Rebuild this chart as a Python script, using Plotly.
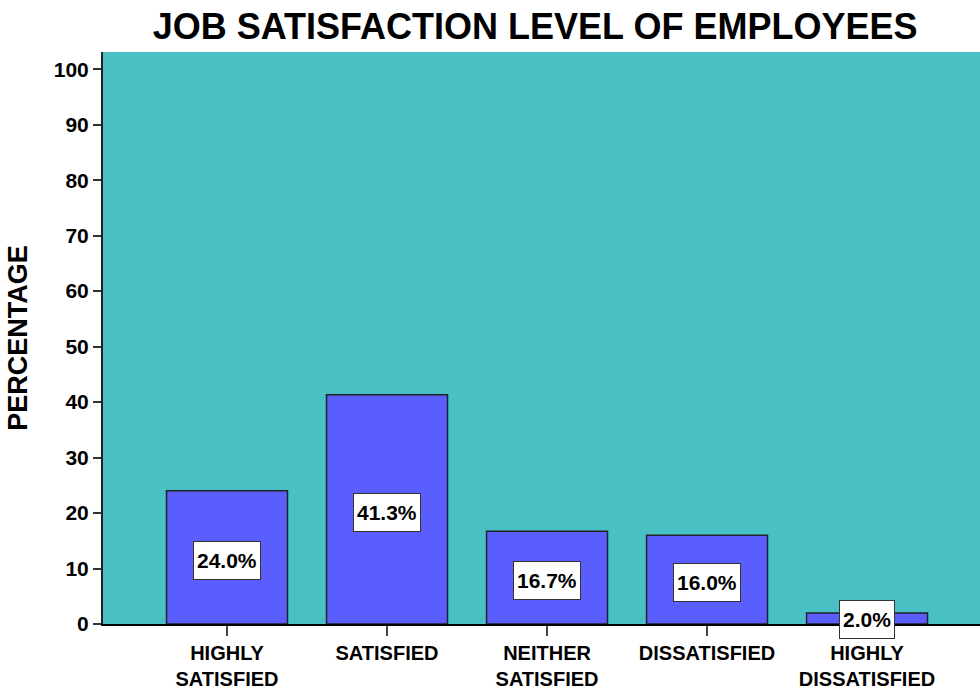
import plotly.graph_objects as go

categories = ["HIGHLY<br>SATISFIED", "SATISFIED", "NEITHER<br>SATISFIED", "DISSATISFIED", "HIGHLY<br>DISSATISFIED"]
percentages = [24.0, 41.3, 16.7, 16.0, 2.0]
y_ticks = [0, 10, 20, 30, 40, 50, 60, 70, 80, 90, 100]

NARROW = "Liberation Sans Narrow, Arial Narrow, Liberation Sans, Arial, sans-serif"
BOLD_FONT = "Liberation Sans, Arial, sans-serif"

xpos = list(range(len(categories)))

fig = go.Figure()
fig.add_trace(go.Bar(
    x=xpos,
    y=percentages,
    width=0.756,
    marker=dict(color="#5B5EFF", line=dict(color="#222222", width=1.5)),
    hoverinfo="skip",
))

# value labels in boxed white tags near the middle of each bar
for xi, v in zip(xpos, percentages):
    fig.add_annotation(
        x=xi, y=v / 2 - 0.5 if v > 5 else 0.9,
        text=f"<b>{v:.1f}%</b>",
        showarrow=False,
        font=dict(family=NARROW, size=21, color="black"),
        bgcolor="white",
        bordercolor="#333333",
        borderwidth=1,
        borderpad=3,
        height=31,
    )

fig.update_layout(
    width=980, height=690,
    margin=dict(l=103, r=0, t=52, b=66),
    paper_bgcolor="white",
    plot_bgcolor="#48C0C4",
    showlegend=False,
    title=dict(
        text="<b>JOB SATISFACTION LEVEL OF EMPLOYEES</b>",
        x=0.546, xanchor="center", y=0.962, yanchor="middle",
        font=dict(family=BOLD_FONT, size=36, color="black"),
    ),
    xaxis=dict(
        tickmode="array", tickvals=xpos,
        ticktext=[f"<b>{c}</b>" for c in categories],
        range=[-0.775, 4.706],
        showgrid=False, zeroline=False,
        showline=True, linecolor="black", linewidth=1.5,
        ticks="outside", ticklen=10, tickcolor="#444444", tickwidth=1.5,
        tickfont=dict(family=NARROW, size=20, color="black"),
    ),
    yaxis=dict(
        range=[0, 103.1],
        tickmode="array", tickvals=y_ticks,
        ticktext=[f"<b>{t}</b>" for t in y_ticks],
        showgrid=False, zeroline=False,
        showline=True, linecolor="#222222", linewidth=2,
        ticks="outside", ticklen=8, tickcolor="#333333", tickwidth=2,
        tickfont=dict(family=NARROW, size=21, color="black"),
        title=dict(text="<b>PERCENTAGE</b>", standoff=18,
                   font=dict(family=BOLD_FONT, size=27, color="black")),
    ),
)

fig.write_html("out.html")
